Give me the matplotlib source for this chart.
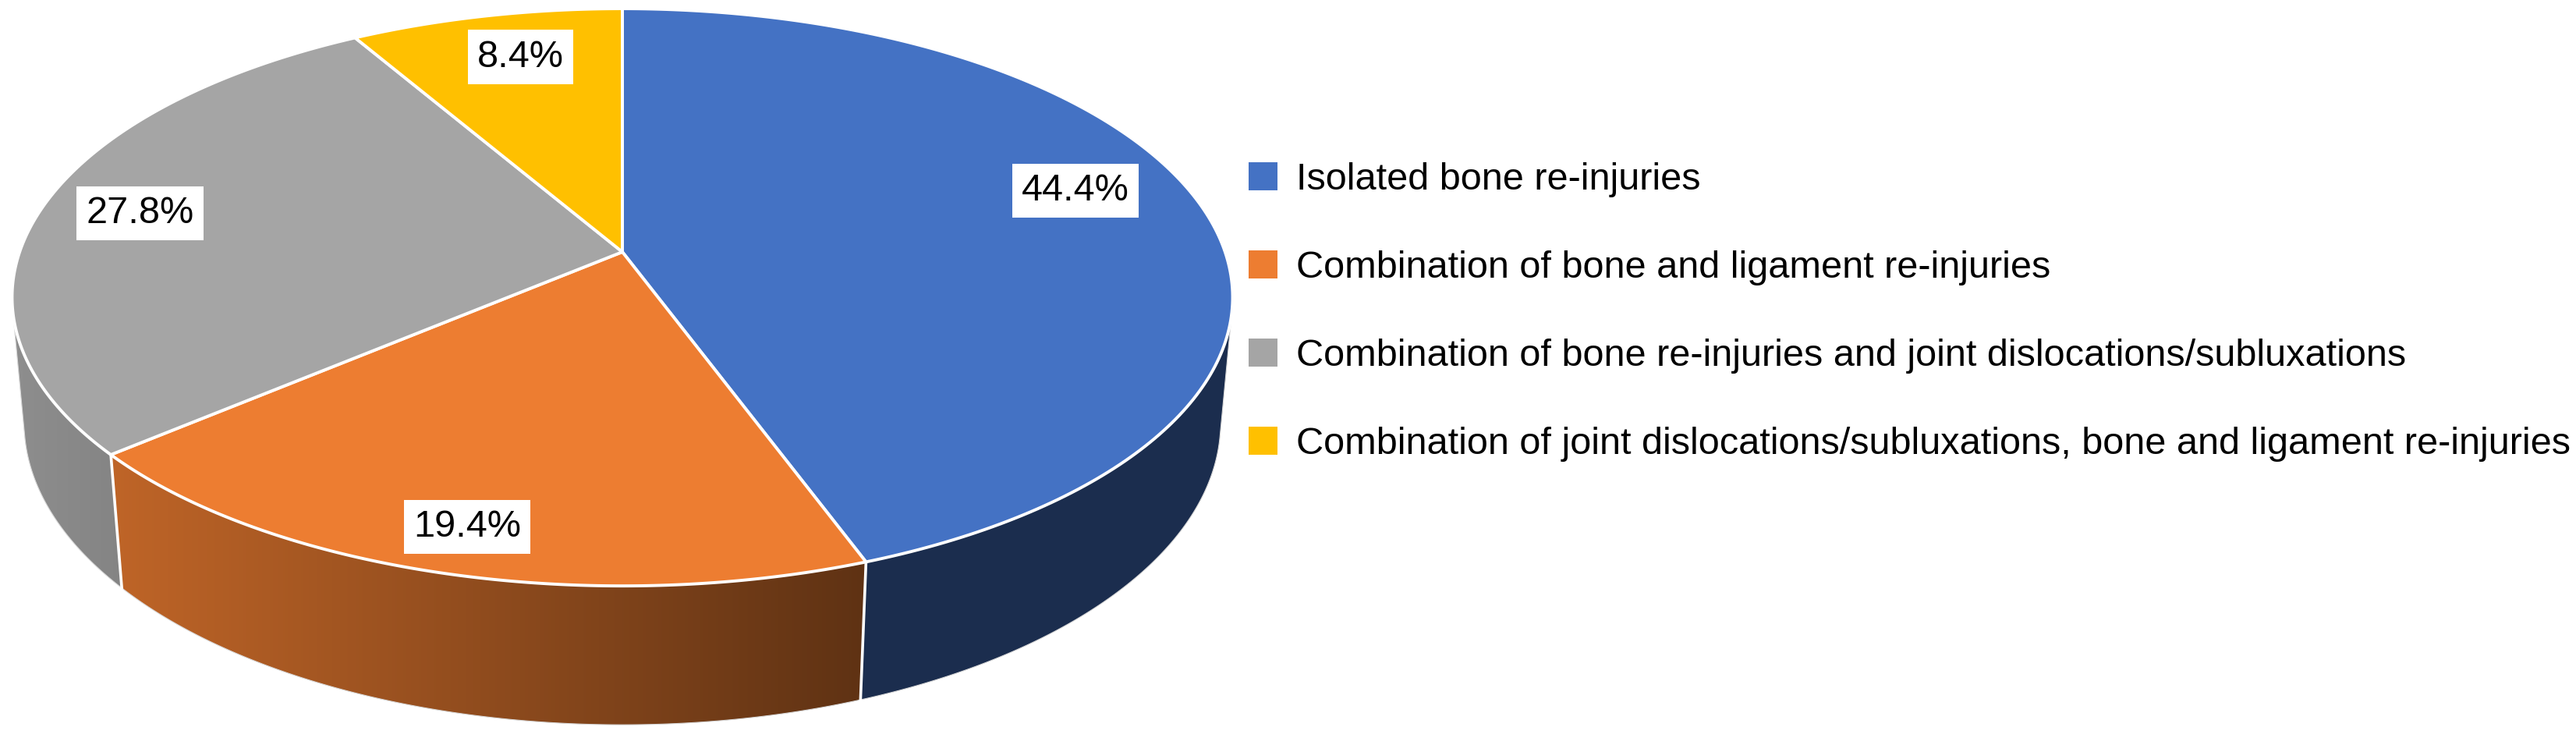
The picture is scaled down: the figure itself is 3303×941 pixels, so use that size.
import numpy as np
import matplotlib
matplotlib.use("Agg")
import matplotlib.pyplot as plt
from matplotlib.patches import Polygon, Patch
from matplotlib.colors import to_rgb

plt.rcParams["font.family"] = ["Liberation Sans", "DejaVu Sans"]

categories = ["Isolated bone re-injuries",
              "Combination of bone and ligament re-injuries",
              "Combination of bone re-injuries and joint dislocations/subluxations",
              "Combination of joint dislocations/subluxations, bone and ligament re-injuries"]
shares = [44.4, 19.4, 27.8, 8.4]
colors = ["#4472C4", "#ED7D31", "#A5A5A5", "#FFC000"]

# 3d view of the pie (camera tilt + perspective), fitted to the picture
elev = np.radians(27.84)
dist = 5.63
thick = 0.237
cx, cy, scale = 798.0, 323.0, 4351.0
se, ce = np.sin(elev), np.cos(elev)


def proj(X, Y, Z):
    depth = dist + Y * ce - Z * se
    up = Y * se + Z * ce
    return cx + scale * X / depth, cy - scale * up / depth


def arc(t0, t1, z, n=200):
    t = np.radians(np.linspace(t0, t1, n))
    return np.column_stack(proj(np.sin(t), np.cos(t), z))


def shade(x):
    # darker to the right, like the excel lighting
    return np.clip(0.86 - (x - 16) / 1095 * 0.46, 0.40, 0.86)


fig = plt.figure(figsize=(33.03, 9.41), dpi=100)
ax = fig.add_axes([0, 0, 1, 1])

edges = np.concatenate([[0], np.cumsum(shares)]) / sum(shares) * 360
vis = np.degrees(np.arccos(-1 / (dist * ce)))   # front facing side from vis to 360-vis

xs = np.arange(0, 1700)
for i in range(len(shares)):
    a0, a1 = max(edges[i], vis), min(edges[i + 1], 360 - vis)
    if a1 <= a0:
        continue
    top = arc(a0, a1, 0)
    bot = arc(a0, a1, -thick)[::-1]
    poly = Polygon(np.vstack([top, bot]), closed=True, facecolor="none",
                   edgecolor="#d9d9d9", lw=0.8, zorder=1.5)
    ax.add_patch(poly)
    grad = np.array(to_rgb(colors[i]))[None, None, :] * shade(xs)[None, :, None]
    im = ax.imshow(grad, extent=(xs[0], xs[-1], 941, 0), aspect="auto", zorder=1)
    im.set_clip_path(poly)

# white lines between side faces
for a in edges[1:-1]:
    if vis < a < 360 - vis:
        t = np.radians(a)
        p0 = proj(np.sin(t), np.cos(t), 0)
        p1 = proj(np.sin(t), np.cos(t), -thick)
        ax.plot([p0[0], p1[0]], [p0[1], p1[1]], color="white", lw=2.6, zorder=2)

# top faces
for i in range(len(shares)):
    pts = np.vstack([[proj(0, 0, 0)], arc(edges[i], edges[i + 1], 0)])
    ax.add_patch(Polygon(pts, closed=True, facecolor=colors[i], edgecolor="white",
                         lw=2.8, joinstyle="round", zorder=3))

# data labels
label_r = [0.81, 0.875, 0.83, 0.80]
label_dt = [-6.0, 0.0, 0.0, 1.4]
for i, v in enumerate(shares):
    t = np.radians((edges[i] + edges[i + 1]) / 2 + label_dt[i])
    lx, ly = proj(label_r[i] * np.sin(t), label_r[i] * np.cos(t), 0)
    ax.text(lx, ly, f"{v}%", fontsize=35, ha="center", va="center", zorder=5,
            bbox=dict(boxstyle="square,pad=0.25", facecolor="white", edgecolor="none"))

handles = [Patch(facecolor=c, edgecolor="none") for c in colors]
fig.legend(handles, categories, loc="center left",
           bbox_to_anchor=(1601 / 3303, 1 - 400 / 941), frameon=False, fontsize=35,
           handlelength=0.76, handleheight=0.76, handletextpad=0.5,
           labelspacing=1.40, borderpad=0, borderaxespad=0)

ax.set_xlim(0, 3303)
ax.set_ylim(941, 0)
ax.axis("off")
fig.savefig("out.png", dpi=100, facecolor="white")
